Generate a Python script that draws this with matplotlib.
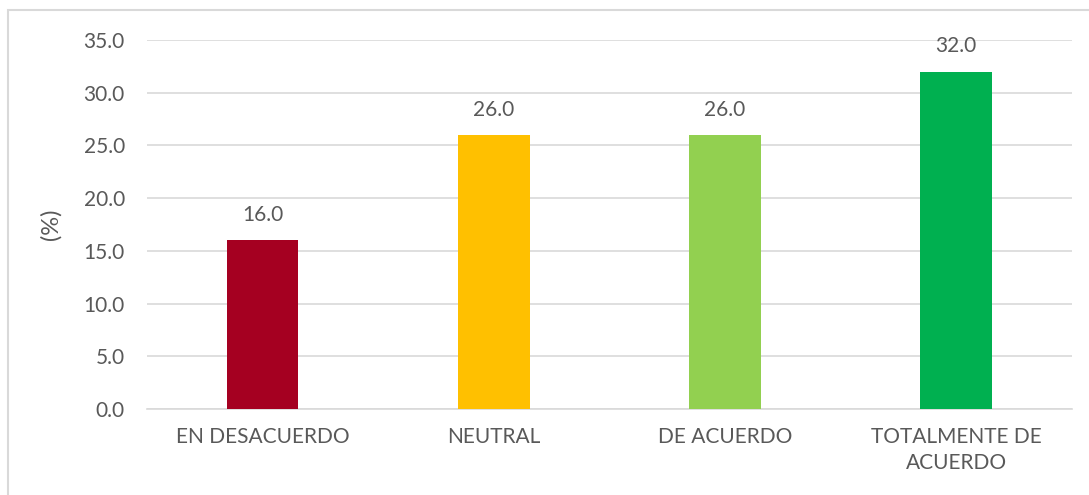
import matplotlib.pyplot as plt
from matplotlib.patches import Rectangle

# ==== Data ====
categories = ["EN DESACUERDO", "NEUTRAL", "DE ACUERDO", "TOTALMENTE DE\nACUERDO"]
values = [16.0, 26.0, 26.0, 32.0]
colors = ["#A50021", "#FFC000", "#92D050", "#00B050"]
y_ticks = [0, 5, 10, 15, 20, 25, 30, 35]

TEXT = "#595959"
GRID = "#D9D9D9"
plt.rcParams["font.family"] = ["Lato", "DejaVu Sans"]

fig = plt.figure(figsize=(10.89, 4.95), dpi=100)
ax = fig.add_axes([0.135, 0.174, 0.849, 0.745])

x = range(len(categories))
bars = ax.bar(x, values, width=0.31, color=colors, zorder=3)
for b, v in zip(bars, values):
    ax.annotate(f"{v:.1f}", (b.get_x() + b.get_width() / 2, v),
                xytext=(0, 11), textcoords="offset points",
                ha="center", va="bottom", fontsize=15, color=TEXT)

ax.set_xlim(-0.5, len(categories) - 0.5)
ax.set_ylim(0, 35)
ax.set_yticks(y_ticks)
ax.set_yticklabels([f"{t:.1f}" for t in y_ticks], fontsize=15, color=TEXT)
ax.set_xticks(list(x))
ax.set_xticklabels(categories, fontsize=15, color=TEXT, linespacing=1.4)
ax.tick_params(axis="y", length=0, pad=16)
ax.tick_params(axis="x", length=0, pad=13)
ax.set_ylabel("(%)", fontsize=17, color=TEXT, labelpad=16)

ax.grid(axis="y", color=GRID, linewidth=1.2, zorder=0)
for s in ["top", "right", "left"]:
    ax.spines[s].set_visible(False)
ax.spines["bottom"].set_color(GRID)
ax.spines["bottom"].set_linewidth(1.2)

# outer chart border (only left and top visible in the reference)
fig.patches.append(Rectangle((8 / 1089, -0.05), 1.2, 1 - 10 / 495 + 0.05,
                             transform=fig.transFigure, fill=False,
                             edgecolor=GRID, linewidth=1.5))

fig.savefig("out.png", dpi=100)
